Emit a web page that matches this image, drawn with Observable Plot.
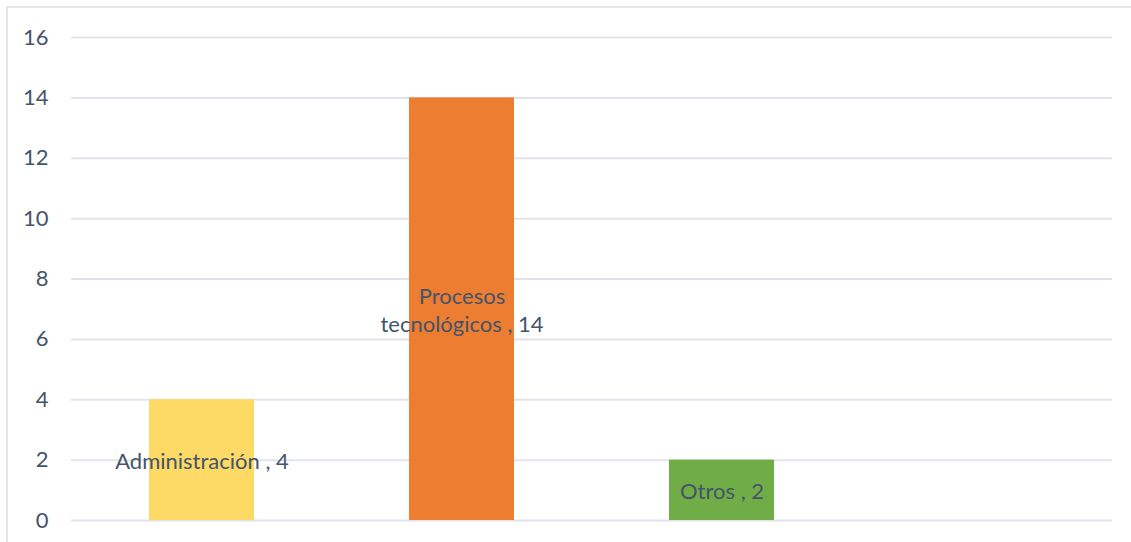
<!DOCTYPE html>
<html>
<head>
<meta charset="utf-8">
<script src="https://cdn.jsdelivr.net/npm/d3@7"></script>
<script src="https://cdn.jsdelivr.net/npm/@observablehq/plot@0.6"></script>
<style>
  html, body { margin: 0; padding: 0; background: #fff; }
  #wrap { position: relative; width: 1131px; height: 542px; overflow: hidden; }
  #frame { position: absolute; left: 6px; top: 6px; right: -10px; bottom: -10px;
           border-left: 2px solid #e2e5ea; border-top: 2px solid #e2e5ea; pointer-events: none; }
</style>
</head>
<body>
<div id="wrap"><div id="frame"></div></div>
<script>
const categories = ["Administración", "Procesos tecnológicos", "Otros"];
const values = [4, 14, 2];
const colors = ["#fdd966", "#ed7d31", "#70ad47"];
const yTicks = [0, 2, 4, 6, 8, 10, 12, 14, 16];

const data = categories.map((c, i) => ({category: c, value: values[i]}));

const chart = Plot.plot({
  width: 1131,
  height: 542,
  marginLeft: 71,
  marginRight: 19,
  marginTop: 37,
  marginBottom: 22,
  style: {fontFamily: "Lato", fontSize: "22px", color: "#44546a", background: "transparent"},
  x: {type: "band", domain: [...categories, " "], paddingInner: 0.596, paddingOuter: 0.298, axis: null},
  y: {domain: [0, 16], ticks: yTicks, label: null},
  color: {domain: categories, range: colors},
  marks: [
    Plot.gridY(yTicks, {stroke: "#e0e4ea", strokeOpacity: 1, strokeWidth: 2}),
    Plot.axisY(yTicks, {tickSize: 0, tickPadding: 23, fontSize: 22, label: null, fill: "#44546a"}),
    Plot.barY(data, {x: "category", y: "value", fill: "category"}),
    Plot.text(data, {
      x: "category",
      y: d => d.value / 2,
      text: d => d.category.replace(" ", "\n") + " , " + d.value,
      fill: "#44546a",
      fontSize: 22,
      lineHeight: 1.27
    })
  ]
});
document.getElementById("wrap").prepend(chart);
</script>
</body>
</html>
